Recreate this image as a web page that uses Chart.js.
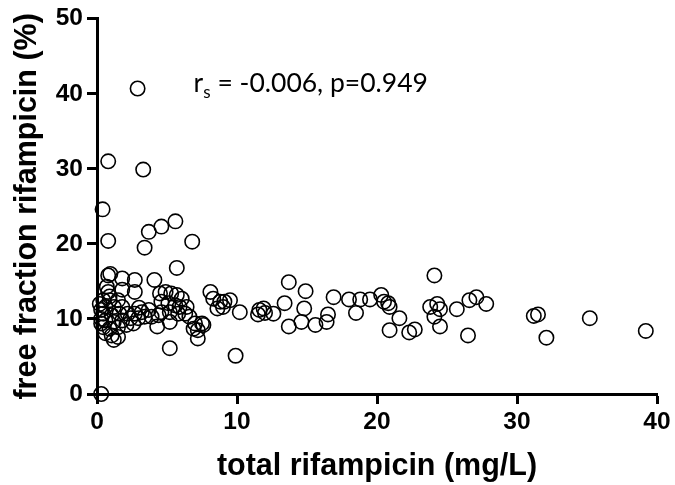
<!DOCTYPE html>
<html>
<head>
<meta charset="utf-8">
<script src="https://cdn.jsdelivr.net/npm/chart.js@4.4.1/dist/chart.umd.min.js"></script>
<style>
  html, body { margin: 0; padding: 0; background: #fff; }
  #wrap { width: 675px; height: 485px; }
</style>
</head>
<body>
<div id="wrap"><canvas id="c" width="675" height="485"></canvas></div>
<script>
// total rifampicin (mg/L)
const totalRif = [
  0.3, 2.9, 0.8, 3.3, 0.4, 0.8, 3.4, 3.7, 4.6, 5.6, 6.8, 5.7,
  0.8, 0.95, 1.8, 2.7, 4.1, 0.7, 0.8, 1.8, 2.7,
  0.45, 0.9, 1.5, 0.6, 1.2, 1.8, 0.45, 1.05, 1.6, 2.2, 2.7, 3.2, 3.7,
  0.6, 1.2, 1.8, 2.4, 2.95, 3.4, 3.9, 4.4, 0.45, 0.9, 1.5, 2.1, 2.6,
  0.6, 1.05, 1.5, 1.2, 0.3, 0.3, 0.9, 3.0, 0.2, 0.3,
  4.5, 4.9, 5.3, 5.7, 6.05, 4.6, 5.1, 5.6, 5.9, 6.4, 4.6, 5.2, 5.8, 6.3,
  6.6, 5.2, 7.0, 7.5, 6.9, 7.2, 7.6, 7.2, 5.2, 4.3,
  8.1, 8.3, 8.8, 9.1, 9.5, 8.6, 9.0, 10.2, 9.9,
  11.6, 11.9, 11.5, 12.0, 12.6, 13.7, 14.9, 13.4, 14.8, 16.9, 13.7, 14.6, 15.6, 16.4, 16.5,
  18.0, 18.8, 19.5, 18.5, 20.3, 20.5, 20.8, 20.9, 21.6, 20.9, 22.3, 22.7,
  24.1, 23.8, 24.3, 24.5, 24.1, 24.5, 25.7, 26.5, 26.6, 27.1, 27.8,
  31.2, 31.5, 32.1, 35.2, 39.2
];
// free fraction rifampicin (%)
const freeFraction = [
  0.0, 40.7, 31.0, 29.9, 24.6, 20.4, 19.5, 21.6, 22.3, 23.0, 20.3, 16.8,
  15.8, 16.0, 15.4, 15.2, 15.2, 14.3, 13.6, 13.9, 13.6,
  12.5, 12.5, 12.5, 11.6, 11.6, 11.6, 10.7, 10.5, 10.7, 10.7, 10.7, 10.9, 11.2,
  9.8, 9.6, 9.8, 10.1, 10.1, 10.3, 10.3, 10.5, 8.9, 8.7, 8.9, 9.2, 9.4,
  8.1, 7.8, 7.6, 7.2, 11.2, 10.0, 13.0, 11.5, 12.0, 9.4,
  13.4, 13.6, 13.4, 13.2, 12.7, 12.3, 12.1, 11.8, 11.6, 11.6, 10.9, 10.9, 10.7, 10.7,
  10.3, 9.6, 9.4, 9.4, 8.7, 8.5, 9.2, 7.4, 6.1, 9.0,
  13.6, 12.7, 12.3, 12.3, 12.5, 11.4, 11.6, 10.9, 5.1,
  11.2, 11.4, 10.6, 10.8, 10.7, 14.9, 13.7, 12.1, 11.4, 12.9, 9.0, 9.6, 9.2, 9.6, 10.6,
  12.6, 12.6, 12.6, 10.8, 13.2, 12.3, 12.1, 11.6, 10.1, 8.5, 8.2, 8.6,
  15.8, 11.6, 12.0, 11.3, 10.3, 9.0, 11.3, 7.8, 12.5, 12.9, 12.0,
  10.4, 10.6, 7.5, 10.1, 8.4
];
const xTicks = [0, 10, 20, 30, 40];
const yTicks = [0, 10, 20, 30, 40, 50];
const xTitle = 'total rifampicin (mg/L)';
const yTitle = 'free fraction rifampicin (%)';
const annotParts = ['r', 's', ' = -0.006, p=0.949'];
const annotPos = [6.9, 41.5];

const points = totalRif.map((x, i) => ({ x: x, y: freeFraction[i] }));

const annotPlugin = {
  id: 'annot',
  afterDatasetsDraw(chart) {
    const ctx = chart.ctx;
    const px = chart.scales.x.getPixelForValue(annotPos[0]);
    const py = chart.scales.y.getPixelForValue(annotPos[1]);
    ctx.save();
    ctx.fillStyle = '#000';
    ctx.textBaseline = 'alphabetic';
    ctx.textAlign = 'left';
    ctx.font = '26.5px Lato, "Open Sans", sans-serif';
    ctx.fillText(annotParts[0], px, py + 9);
    let w = ctx.measureText(annotParts[0]).width;
    ctx.font = '17px Lato, "Open Sans", sans-serif';
    ctx.fillText(annotParts[1], px + w, py + 15);
    w += ctx.measureText(annotParts[1]).width;
    ctx.font = '26.5px Lato, "Open Sans", sans-serif';
    ctx.fillText(annotParts[2], px + w, py + 9);
    ctx.restore();
  }
};

const tickFont = { family: '"Liberation Sans", Arial, sans-serif', size: 24.5, weight: 'bold' };
const titleFont = { family: '"Liberation Sans", Arial, sans-serif', size: 30.5, weight: 'bold' };

new Chart(document.getElementById('c'), {
  type: 'scatter',
  data: {
    datasets: [{
      data: points,
      pointRadius: 7.2,
      pointHoverRadius: 7.2,
      pointBorderWidth: 1.6,
      pointBorderColor: '#000',
      pointBackgroundColor: 'rgba(0,0,0,0)',
      clip: false
    }]
  },
  options: {
    responsive: false,
    animation: false,
    devicePixelRatio: 1,
    layout: { padding: { top: 18, right: 18, left: 0, bottom: 0 } },
    plugins: { legend: { display: false }, tooltip: { enabled: false } },
    scales: {
      x: {
        type: 'linear', min: 0, max: 40,
        afterBuildTicks(s) { s.ticks = xTicks.map(v => ({ value: v })); },
        afterFit(s) { s.height = 91; },
        border: { display: true, color: '#000', width: 3 },
        grid: { display: true, drawOnChartArea: false, drawTicks: true, tickLength: 10, tickWidth: 3, tickColor: '#000', color: '#000' },
        ticks: { color: '#000', font: tickFont, padding: 4, maxRotation: 0 },
        title: { display: true, text: xTitle, color: '#000', font: titleFont, padding: { top: 0, bottom: 0 } }
      },
      y: {
        type: 'linear', min: 0, max: 50,
        afterBuildTicks(s) { s.ticks = yTicks.map(v => ({ value: v })); },
        afterFit(s) { s.width = 97; },
        border: { display: true, color: '#000', width: 3 },
        grid: { display: true, drawOnChartArea: false, drawTicks: true, tickLength: 10, tickWidth: 3, tickColor: '#000', color: '#000' },
        ticks: { color: '#000', font: tickFont, padding: 4 },
        title: { display: true, text: yTitle, color: '#000', font: titleFont, padding: { top: 9, bottom: 0 } }
      }
    }
  },
  plugins: [annotPlugin]
});
</script>
</body>
</html>
